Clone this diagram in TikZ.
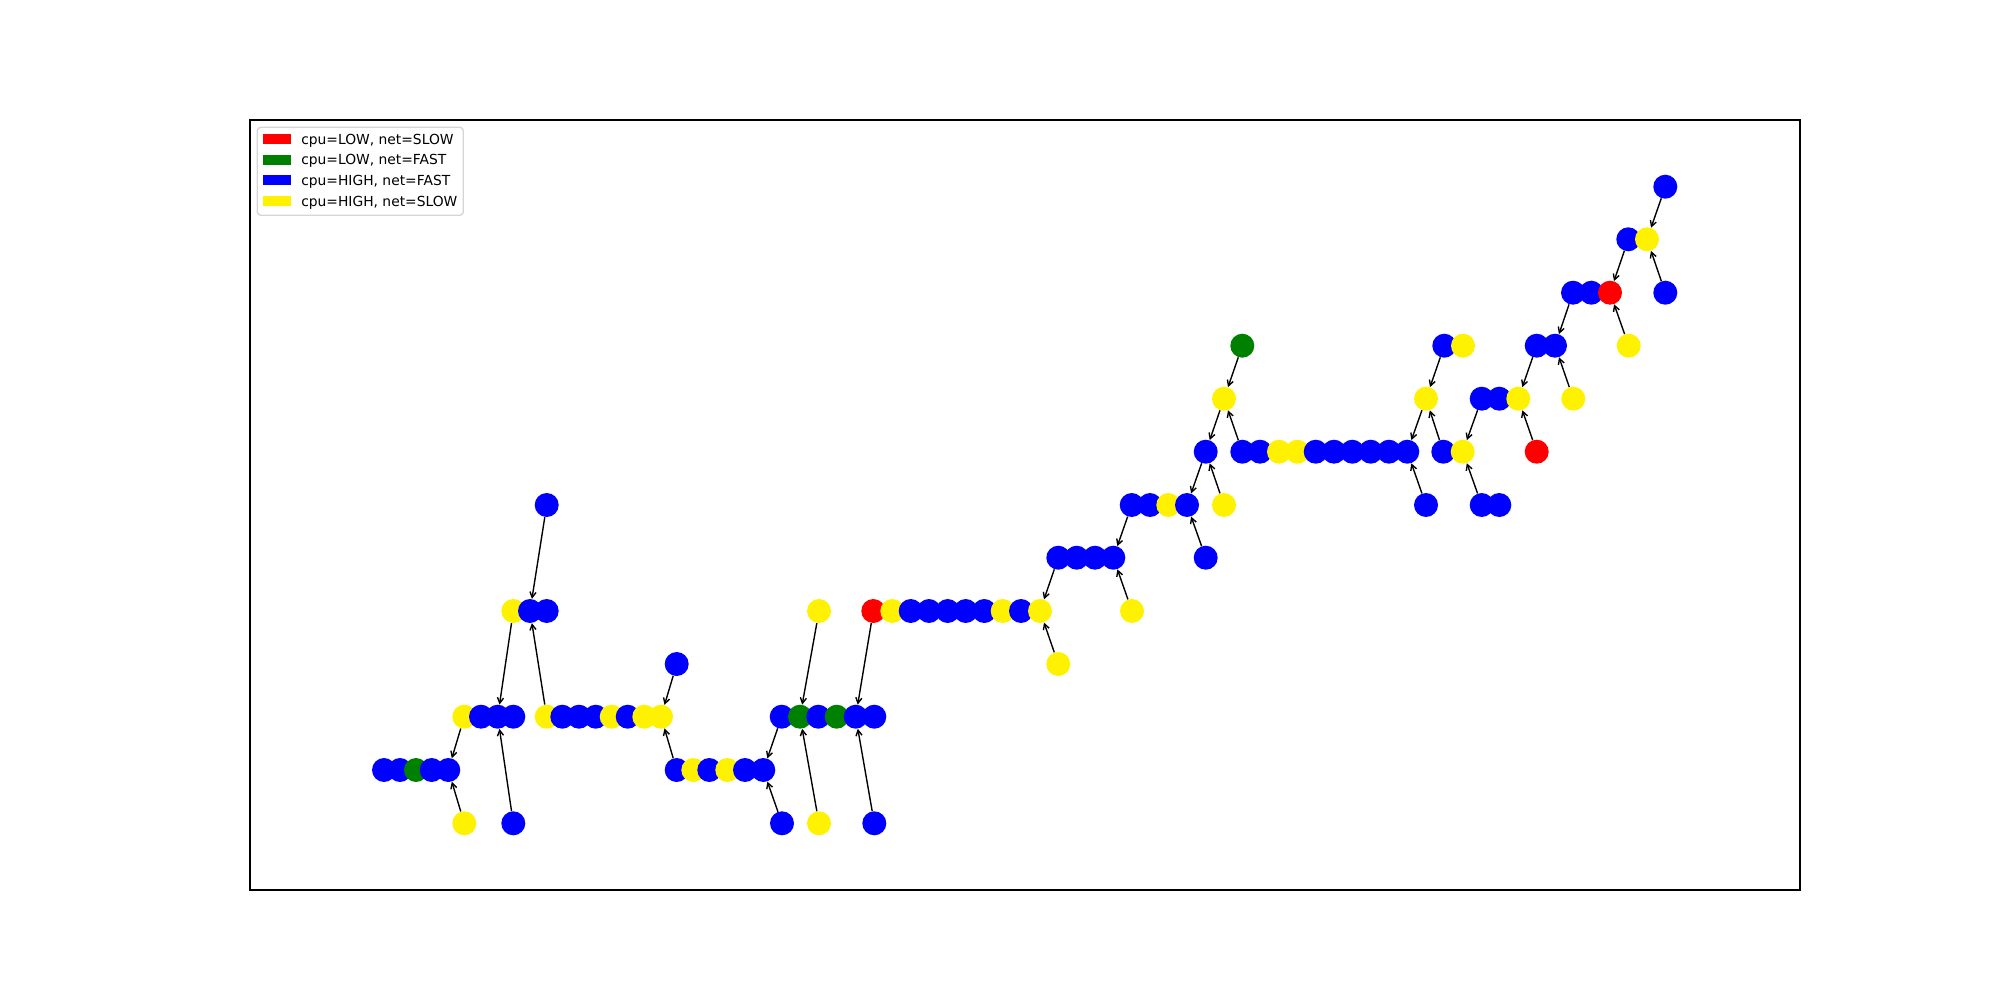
\documentclass[tikz,border=0pt]{standalone}
\usepackage{fontspec}
\setmainfont{DejaVu Sans}
\usetikzlibrary{arrows.meta,backgrounds}

\definecolor{mplgreen}{HTML}{008000}
\definecolor{legendgray}{HTML}{D6D6D6}

\tikzset{
  peer/.style = {circle, draw=none, inner sep=0pt, minimum size=17.32pt},
  lowslow/.style = {peer, fill=red},
  lowfast/.style = {peer, fill=mplgreen},
  highfast/.style = {peer, fill=blue},
  highslow/.style = {peer, fill=yellow},
  link/.style = {-{Straight Barb[length=4pt,width=4.4pt]}, line width=1pt, black},
  swatch/.style = {rectangle, draw=none, inner sep=0pt, minimum width=20.4pt, minimum height=7pt},
  keytext/.style = {anchor=base west, inner sep=0pt, font=\fontsize{10pt}{12pt}\selectfont}
}

\begin{document}
\begin{tikzpicture}[x=0.01in, y=-0.01in]
        % one unit = one pixel of the 2000 x 1000 figure
        \useasboundingbox (0,0) rectangle (2000,1000);

        % axes frame
        \draw[line width=0.8pt] (250,120) rectangle (1800,890);

        % level 0
        \node[highfast] (l0a) at (1665.3,186.7) {};
        % level 1
        \node[highfast] (l1a) at (1628.3,239.3) {};
        \node[highslow] (l1b) at (1647.0,239.3) {};
        % level 2
        \node[highfast] (l2a) at (1573.0,292.7) {};
        \node[highfast] (l2b) at (1591.3,292.7) {};
        \node[lowslow]  (l2c) at (1610.0,292.7) {};
        \node[highfast] (l2d) at (1665.3,292.7) {};
        % level 3
        \node[lowfast]  (l3a) at (1242.3,345.7) {};
        \node[highfast] (l3b) at (1444.3,345.7) {};
        \node[highslow] (l3c) at (1463.0,345.7) {};
        \node[highfast] (l3d) at (1536.7,345.7) {};
        \node[highfast] (l3e) at (1555.0,345.7) {};
        \node[highslow] (l3f) at (1628.7,345.7) {};
        % level 4
        \node[highslow] (l4a) at (1224.0,398.7) {};
        \node[highslow] (l4b) at (1426.0,398.7) {};
        \node[highfast] (l4c) at (1481.7,398.7) {};
        \node[highfast] (l4d) at (1499.3,398.7) {};
        \node[highslow] (l4e) at (1518.3,398.7) {};
        \node[highslow] (l4f) at (1573.3,398.7) {};
        % level 5
        \node[highfast] (l5a) at (1205.7,451.7) {};
        \node[highfast] (l5b) at (1242.3,451.7) {};
        \node[highfast] (l5c) at (1260.0,451.7) {};
        \node[highslow] (l5d) at (1279.0,451.7) {};
        \node[highslow] (l5e) at (1297.3,451.7) {};
        \node[highfast] (l5f) at (1315.7,451.7) {};
        \node[highfast] (l5g) at (1334.0,451.7) {};
        \node[highfast] (l5h) at (1352.3,451.7) {};
        \node[highfast] (l5i) at (1370.7,451.7) {};
        \node[highfast] (l5j) at (1389.0,451.7) {};
        \node[highfast] (l5k) at (1407.3,451.7) {};
        \node[highfast] (l5l) at (1443.3,451.7) {};
        \node[highslow] (l5m) at (1462.7,451.7) {};
        \node[lowslow]  (l5n) at (1536.7,451.7) {};
        % level 6
        \node[highfast] (l6a) at (546.7,505.0) {};
        \node[highfast] (l6b) at (1131.7,505.0) {};
        \node[highfast] (l6c) at (1150.0,505.0) {};
        \node[highslow] (l6d) at (1168.3,505.0) {};
        \node[highfast] (l6e) at (1187.0,505.0) {};
        \node[highslow] (l6f) at (1224.0,505.0) {};
        \node[highfast] (l6g) at (1426.0,505.0) {};
        \node[highfast] (l6h) at (1481.7,505.0) {};
        \node[highfast] (l6i) at (1499.3,505.0) {};
        % level 7
        \node[highfast] (l7a) at (1058.3,557.7) {};
        \node[highfast] (l7b) at (1076.7,557.7) {};
        \node[highfast] (l7c) at (1095.0,557.7) {};
        \node[highfast] (l7d) at (1113.3,557.7) {};
        \node[highfast] (l7e) at (1205.7,557.7) {};
        % level 8
        \node[highslow] (l8a) at (513.3,611.0) {};
        \node[highfast] (l8b) at (530.0,611.0) {};
        \node[highfast] (l8c) at (546.7,611.0) {};
        \node[highslow] (l8d) at (819.0,611.0) {};
        \node[lowslow]  (l8e) at (873.3,611.0) {};
        \node[highslow] (l8f) at (892.3,611.0) {};
        \node[highfast] (l8g) at (910.7,611.0) {};
        \node[highfast] (l8h) at (929.0,611.0) {};
        \node[highfast] (l8i) at (947.7,611.0) {};
        \node[highfast] (l8j) at (965.7,611.0) {};
        \node[highfast] (l8k) at (984.3,611.0) {};
        \node[highslow] (l8l) at (1002.7,611.0) {};
        \node[highfast] (l8m) at (1021.0,611.0) {};
        \node[highslow] (l8n) at (1040.0,611.0) {};
        \node[highslow] (l8o) at (1132.0,611.0) {};
        % level 9
        \node[highfast] (l9a) at (676.7,664.0) {};
        \node[highslow] (l9b) at (1058.3,664.0) {};
        % level 10
        \node[highslow] (l10a) at (464.3,716.7) {};
        \node[highfast] (l10b) at (481.0,716.7) {};
        \node[highfast] (l10c) at (497.7,716.7) {};
        \node[highfast] (l10d) at (513.3,716.7) {};
        \node[highslow] (l10e) at (546.7,716.7) {};
        \node[highfast] (l10f) at (562.3,716.7) {};
        \node[highfast] (l10g) at (579.0,716.7) {};
        \node[highfast] (l10h) at (595.7,716.7) {};
        \node[highslow] (l10i) at (611.7,716.7) {};
        \node[highfast] (l10j) at (627.7,716.7) {};
        \node[highslow] (l10k) at (644.3,716.7) {};
        \node[highslow] (l10l) at (661.0,716.7) {};
        \node[highfast] (l10m) at (781.7,716.7) {};
        \node[lowfast]  (l10n) at (800.0,716.7) {};
        \node[highfast] (l10o) at (818.3,716.7) {};
        \node[lowfast]  (l10p) at (836.7,716.7) {};
        \node[highfast] (l10q) at (855.7,716.7) {};
        \node[highfast] (l10r) at (874.3,716.7) {};
        % level 11
        \node[highfast] (l11a) at (384.0,770.0) {};
        \node[highfast] (l11b) at (400.0,770.0) {};
        \node[lowfast]  (l11c) at (416.0,770.0) {};
        \node[highfast] (l11d) at (431.7,770.0) {};
        \node[highfast] (l11e) at (448.3,770.0) {};
        \node[highfast] (l11f) at (676.7,770.0) {};
        \node[highslow] (l11g) at (693.3,770.0) {};
        \node[highfast] (l11h) at (709.3,770.0) {};
        \node[highslow] (l11i) at (727.3,770.0) {};
        \node[highfast] (l11j) at (745.0,770.0) {};
        \node[highfast] (l11k) at (763.3,770.0) {};
        % level 12
        \node[highslow] (l12a) at (464.3,823.3) {};
        \node[highfast] (l12b) at (513.3,823.3) {};
        \node[highfast] (l12c) at (782.0,823.3) {};
        \node[highslow] (l12d) at (819.0,823.3) {};
        \node[highfast] (l12e) at (874.3,823.3) {};

        % links, under the peers
        \begin{scope}[on background layer]
            \draw[link] (l6a) -- (l8b);
            \draw[link] (l8a) -- (l10c);
            \draw[link] (l10e) -- (l8b);
            \draw[link] (l10a) -- (l11e);
            \draw[link] (l12a) -- (l11e);
            \draw[link] (l12b) -- (l10c);
            \draw[link] (l9a) -- (l10l);
            \draw[link] (l11f) -- (l10l);
            \draw[link] (l10m) -- (l11k);
            \draw[link] (l12c) -- (l11k);
            \draw[link] (l8d) -- (l10n);
            \draw[link] (l12d) -- (l10n);
            \draw[link] (l8e) -- (l10q);
            \draw[link] (l12e) -- (l10q);
            \draw[link] (l7a) -- (l8n);
            \draw[link] (l9b) -- (l8n);
            \draw[link] (l6b) -- (l7d);
            \draw[link] (l8o) -- (l7d);
            \draw[link] (l5a) -- (l6e);
            \draw[link] (l7e) -- (l6e);
            \draw[link] (l4a) -- (l5a);
            \draw[link] (l6f) -- (l5a);
            \draw[link] (l3a) -- (l4a);
            \draw[link] (l5b) -- (l4a);
            \draw[link] (l3b) -- (l4b);
            \draw[link] (l4b) -- (l5k);
            \draw[link] (l5l) -- (l4b);
            \draw[link] (l6g) -- (l5k);
            \draw[link] (l4c) -- (l5m);
            \draw[link] (l6h) -- (l5m);
            \draw[link] (l3d) -- (l4e);
            \draw[link] (l5n) -- (l4e);
            \draw[link] (l2a) -- (l3e);
            \draw[link] (l4f) -- (l3e);
            \draw[link] (l1a) -- (l2c);
            \draw[link] (l3f) -- (l2c);
            \draw[link] (l0a) -- (l1b);
            \draw[link] (l2d) -- (l1b);
        \end{scope}

        % legend box
        \draw[legendgray, fill=white, line width=1pt, rounded corners=2.5pt] (257.3,127.3) rectangle (463.3,215.3);
        \node[swatch, fill=red]       (keyls) at (276.9,139.0) {};
        \node[swatch, fill=mplgreen]  (keylf) at (276.9,159.7) {};
        \node[swatch, fill=blue]      (keyhf) at (276.9,180.3) {};
        \node[swatch, fill=yellow]    (keyhs) at (276.9,201.0) {};
        \node[keytext] (txtls) at (301,144.1) {cpu=LOW, net=SLOW};
        \node[keytext] (txtlf) at (301,164.8) {cpu=LOW, net=FAST};
        \node[keytext] (txthf) at (301,185.4) {cpu=HIGH, net=FAST};
        \node[keytext] (txths) at (301,206.1) {cpu=HIGH, net=SLOW};
\end{tikzpicture}
\end{document}
